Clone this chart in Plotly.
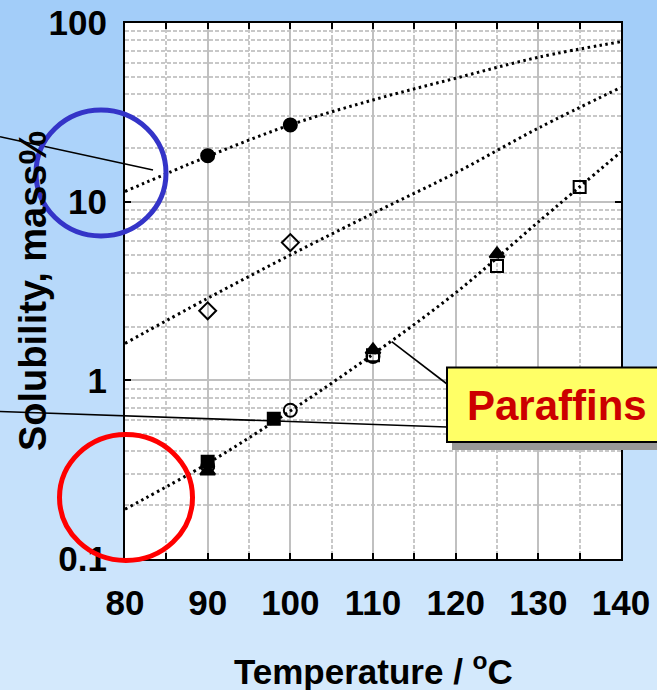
import plotly.graph_objects as go

# ---------------- data ----------------
temp_fit = [80, 90, 100, 110, 120, 130, 140]
fit_high = [11.4, 17.9, 26.9, 37.1, 49.1, 64.3, 78.6]
fit_mid = [1.61, 2.88, 5.03, 8.6, 14.5, 25.8, 43.6]
fit_low = [0.19, 0.343, 0.674, 1.40, 3.09, 7.7, 19.0]

t_circle_filled = [90, 100]
s_circle_filled = [18.1, 26.9]
t_diamond_open = [90, 100]
s_diamond_open = [2.45, 5.9]
t_square_filled = [90, 98]
s_square_filled = [0.35, 0.61]
t_triangle_filled = [90, 110, 125]
s_triangle_filled = [0.31, 1.48, 5.1]
t_square_open = [110, 125, 135]
s_square_open = [1.38, 4.37, 12.1]
t_circle_open = [90, 100, 110]
s_circle_open = [0.33, 0.68, 1.36]

x_ticks = [80, 90, 100, 110, 120, 130, 140]
y_ticks = [0.1, 1, 10, 100]
y_tick_text = ["0.1", "1", "10", "100"]

# ---------------- layout geometry ----------------
W, H = 657, 690
L, R, T, B = 125, 36, 23, 131
PW, PH = W - L - R, H - T - B
FONT = "Liberation Sans, Arial, sans-serif"


def px(x):
    return (x - L) / PW


def py(y):
    return (H - B - y) / PH


fig = go.Figure()

dotted = dict(color="black", width=3, dash="2.5px,3.5px", shape="spline")
fig.add_trace(go.Scatter(x=temp_fit, y=fit_high, mode="lines", line=dotted, showlegend=False))
fig.add_trace(go.Scatter(x=temp_fit, y=fit_mid, mode="lines", line=dotted, showlegend=False))
fig.add_trace(go.Scatter(x=temp_fit, y=fit_low, mode="lines", line=dotted, showlegend=False))

mk_line = dict(color="black", width=2)
fig.add_trace(go.Scatter(x=t_triangle_filled, y=s_triangle_filled, mode="markers", marker=dict(symbol="triangle-up", size=13, color="black", line=mk_line), showlegend=False))
fig.add_trace(go.Scatter(x=t_square_filled, y=s_square_filled, mode="markers", marker=dict(symbol="square", size=12, color="black", line=mk_line), showlegend=False))
fig.add_trace(go.Scatter(x=t_square_open, y=s_square_open, mode="markers", marker=dict(symbol="square-open", size=12, color="black", line=mk_line), showlegend=False))
fig.add_trace(go.Scatter(x=t_circle_open, y=s_circle_open, mode="markers", marker=dict(symbol="circle-open", size=13, color="black", line=mk_line), showlegend=False))
fig.add_trace(go.Scatter(x=t_diamond_open, y=s_diamond_open, mode="markers", marker=dict(symbol="diamond-open", size=13, color="black", line=mk_line), showlegend=False))
fig.add_trace(go.Scatter(x=t_circle_filled, y=s_circle_filled, mode="markers", marker=dict(symbol="circle", size=13, color="black", line=mk_line), showlegend=False))

shapes = []
# background gradient bands
N = 69
top_c = (162, 205, 249)
bot_c = (212, 233, 252)
for i in range(N):
    f = i / (N - 1)
    c = tuple(round(top_c[k] + (bot_c[k] - top_c[k]) * f) for k in range(3))
    y0 = i * H / N
    y1 = (i + 1) * H / N + 1
    shapes.append(dict(type="rect", xref="paper", yref="paper", x0=px(-5), x1=px(W + 5), y0=py(y1), y1=py(y0),
                       fillcolor="rgb(%d,%d,%d)" % c, line=dict(width=0), layer="below"))
shapes.append(dict(type="rect", xref="paper", yref="paper", x0=0, x1=1, y0=0, y1=1, fillcolor="white", line=dict(width=0), layer="below"))

# pointer lines
shapes.append(dict(type="line", xref="paper", yref="paper", x0=px(0), y0=py(136.7), x1=px(153), y1=py(170), line=dict(color="black", width=1.6), layer="above"))
shapes.append(dict(type="line", xref="paper", yref="paper", x0=px(0), y0=py(411.5), x1=px(447), y1=py(427), line=dict(color="black", width=1.6), layer="above"))
shapes.append(dict(type="line", xref="paper", yref="paper", x0=px(391.7), y0=py(341.7), x1=px(447), y1=py(384), line=dict(color="black", width=1.6), layer="above"))

# highlight circles
shapes.append(dict(type="circle", xref="paper", yref="paper", x0=px(36), x1=px(166), y0=py(236), y1=py(110), line=dict(color="#3434c8", width=5), layer="above"))
shapes.append(dict(type="circle", xref="paper", yref="paper", x0=px(59.5), x1=px(192.5), y0=py(560.5), y1=py(434.5), line=dict(color="#ff0000", width=5), layer="above"))

# Paraffins callout box with shadow
shapes.append(dict(type="rect", xref="paper", yref="paper", x0=px(452), x1=px(670), y0=py(450), y1=py(375), fillcolor="#999999", line=dict(width=0), layer="above"))
shapes.append(dict(type="rect", xref="paper", yref="paper", x0=px(447), x1=px(668), y0=py(442), y1=py(367.5), fillcolor="#ffff66", line=dict(color="black", width=2), layer="above"))

annotations = [
    dict(text="Paraffins", xref="paper", yref="paper", x=px(556.5), y=py(405), showarrow=False, xanchor="center", yanchor="middle",
         font=dict(family=FONT, size=42, color="#cc0000", weight="bold")),
    dict(text="Temperature / <sup>o</sup>C", xref="paper", yref="paper", x=px(373), y=py(669), showarrow=False, xanchor="center", yanchor="middle",
         font=dict(family=FONT, size=35, color="black", weight="bold")),
    dict(text="Solubility, mass%", xref="paper", yref="paper", x=px(33), y=py(291), showarrow=False, xanchor="center", yanchor="middle", textangle=-90,
         font=dict(family=FONT, size=38, color="black", weight="bold")),
]

axis_common = dict(showline=True, linecolor="black", linewidth=2, mirror="ticks", ticks="inside", ticklen=6, tickwidth=2,
                   tickcolor="black", showgrid=True, gridcolor="#c0c0c0", gridwidth=2, zeroline=False,
                   tickfont=dict(family=FONT, size=35, color="black", weight="bold"))

fig.update_layout(
    width=W, height=H,
    margin=dict(l=L, r=R, t=T, b=B, autoexpand=False),
    paper_bgcolor="rgb(186,218,250)",
    plot_bgcolor="white",
    shapes=shapes,
    annotations=annotations,
    xaxis=dict(range=[80, 140], tickmode="array", tickvals=x_ticks, ticktext=[str(v) for v in x_ticks],
               ticklabelstandoff=12,
               minor=dict(tickmode="array", tickvals=[85, 95, 105, 115, 125, 135], ticks="inside", ticklen=6, tickwidth=2, tickcolor="black",
                          showgrid=True, gridcolor="#c8c8c8", gridwidth=2, griddash="4px,2px"),
               **axis_common),
    yaxis=dict(type="log", range=[-1, 2], tickmode="array", tickvals=y_ticks, ticktext=y_tick_text,
               ticklabelstandoff=9,
               minor=dict(tickmode="array", tickvals=[m * 10.0 ** e for e in (-1, 0, 1) for m in range(2, 10)], ticks="",
                          showgrid=True, gridcolor="#c8c8c8", gridwidth=2, griddash="4px,2px"),
               **axis_common),
)

fig.write_html("out.html", config={"displayModeBar": False},
               post_script="document.body.style.margin='0';document.body.style.overflow='hidden';")
